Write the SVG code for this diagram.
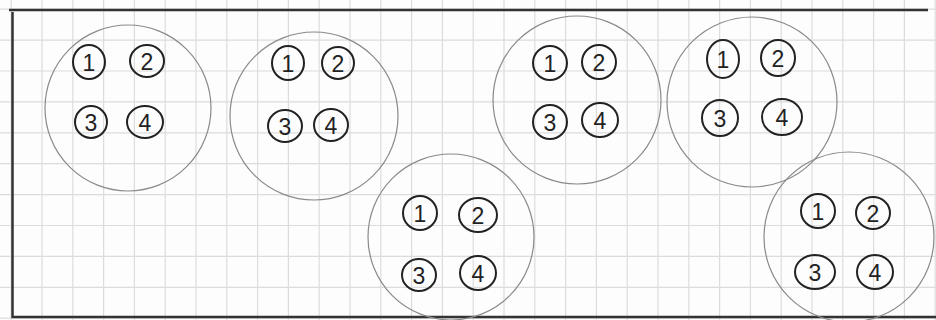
<svg xmlns="http://www.w3.org/2000/svg" width="936" height="320" viewBox="0 0 936 320">
<style>
.grid{fill:none;stroke:#dcdcdc;stroke-width:1.2}
.big{fill:none;stroke:#8a8a8a;stroke-width:1.2}
.sc{fill:none;stroke:#222;stroke-width:2}
.d{font-family:"Liberation Sans","DejaVu Sans",sans-serif;font-size:23px;fill:#222;text-anchor:middle;dominant-baseline:central}
.frame{fill:none;stroke:#333;stroke-width:2.5}
</style>
<rect width="936" height="320" fill="#fdfdfd"/>
<path class="grid" d="M11.2 0V320M42 0V320M72.8 0V320M103.6 0V320M134.4 0V320M165.2 0V320M196 0V320M226.8 0V320M257.6 0V320M288.4 0V320M319.2 0V320M350 0V320M380.8 0V320M411.6 0V320M442.4 0V320M473.2 0V320M504 0V320M534.8 0V320M565.6 0V320M596.4 0V320M627.2 0V320M658 0V320M688.8 0V320M719.6 0V320M750.4 0V320M781.2 0V320M812 0V320M842.8 0V320M873.6 0V320M904.4 0V320M935.2 0V320M0 9.2H936M0 40.1H936M0 71H936M0 101.9H936M0 132.8H936M0 163.7H936M0 194.6H936M0 225.5H936M0 256.4H936M0 287.3H936M0 318.2H936"/>
<path class="frame" d="M9 10H928"/>
<path class="frame" d="M12.5 12V317H936"/>
<g id="connectors"/>
<g id="group1">
<circle class="big" cx="128" cy="108" r="83"/>
<ellipse class="sc" cx="89" cy="62" rx="16" ry="17"/><text class="d" x="89" y="63">1</text>
<ellipse class="sc" cx="147" cy="61" rx="17" ry="16"/><text class="d" x="147" y="62">2</text>
<ellipse class="sc" cx="91" cy="122" rx="16" ry="16"/><text class="d" x="91" y="123">3</text>
<ellipse class="sc" cx="145" cy="122" rx="18" ry="16"/><text class="d" x="145" y="123">4</text>
</g>
<g id="group2">
<circle class="big" cx="314" cy="116" r="84"/>
<ellipse class="sc" cx="288" cy="63" rx="16" ry="17"/><text class="d" x="288" y="64">1</text>
<ellipse class="sc" cx="338" cy="63" rx="16" ry="16"/><text class="d" x="338" y="64">2</text>
<ellipse class="sc" cx="285" cy="126" rx="17" ry="16"/><text class="d" x="285" y="127">3</text>
<ellipse class="sc" cx="331" cy="125" rx="17" ry="16"/><text class="d" x="331" y="126">4</text>
</g>
<g id="group3">
<circle class="big" cx="451" cy="237" r="83"/>
<ellipse class="sc" cx="420" cy="213" rx="17" ry="17"/><text class="d" x="420" y="214">1</text>
<ellipse class="sc" cx="478" cy="215" rx="19" ry="17"/><text class="d" x="478" y="216">2</text>
<ellipse class="sc" cx="419" cy="275" rx="17" ry="16"/><text class="d" x="419" y="276">3</text>
<ellipse class="sc" cx="478" cy="273" rx="18" ry="17"/><text class="d" x="478" y="274">4</text>
</g>
<g id="group4">
<circle class="big" cx="577" cy="100" r="84"/>
<ellipse class="sc" cx="550" cy="63" rx="17" ry="17"/><text class="d" x="550" y="64">1</text>
<ellipse class="sc" cx="599" cy="62" rx="17" ry="17"/><text class="d" x="599" y="63">2</text>
<ellipse class="sc" cx="550" cy="122" rx="17" ry="17"/><text class="d" x="550" y="123">3</text>
<ellipse class="sc" cx="600" cy="120" rx="18" ry="17"/><text class="d" x="600" y="121">4</text>
</g>
<g id="group5">
<circle class="big" cx="752" cy="102" r="85"/>
<ellipse class="sc" cx="723" cy="59" rx="16" ry="19"/><text class="d" x="723" y="60">1</text>
<ellipse class="sc" cx="778" cy="58" rx="17" ry="18"/><text class="d" x="778" y="59">2</text>
<ellipse class="sc" cx="720" cy="118" rx="18" ry="18"/><text class="d" x="720" y="119">3</text>
<ellipse class="sc" cx="782" cy="117" rx="20" ry="18"/><text class="d" x="782" y="118">4</text>
</g>
<g id="group6">
<circle class="big" cx="849" cy="237" r="85"/>
<ellipse class="sc" cx="818" cy="211" rx="17" ry="17"/><text class="d" x="818" y="212">1</text>
<ellipse class="sc" cx="873" cy="213" rx="17" ry="16"/><text class="d" x="873" y="214">2</text>
<ellipse class="sc" cx="815" cy="272" rx="20" ry="17"/><text class="d" x="815" y="273">3</text>
<ellipse class="sc" cx="875" cy="272" rx="18" ry="17"/><text class="d" x="875" y="273">4</text>
</g>
</svg>
